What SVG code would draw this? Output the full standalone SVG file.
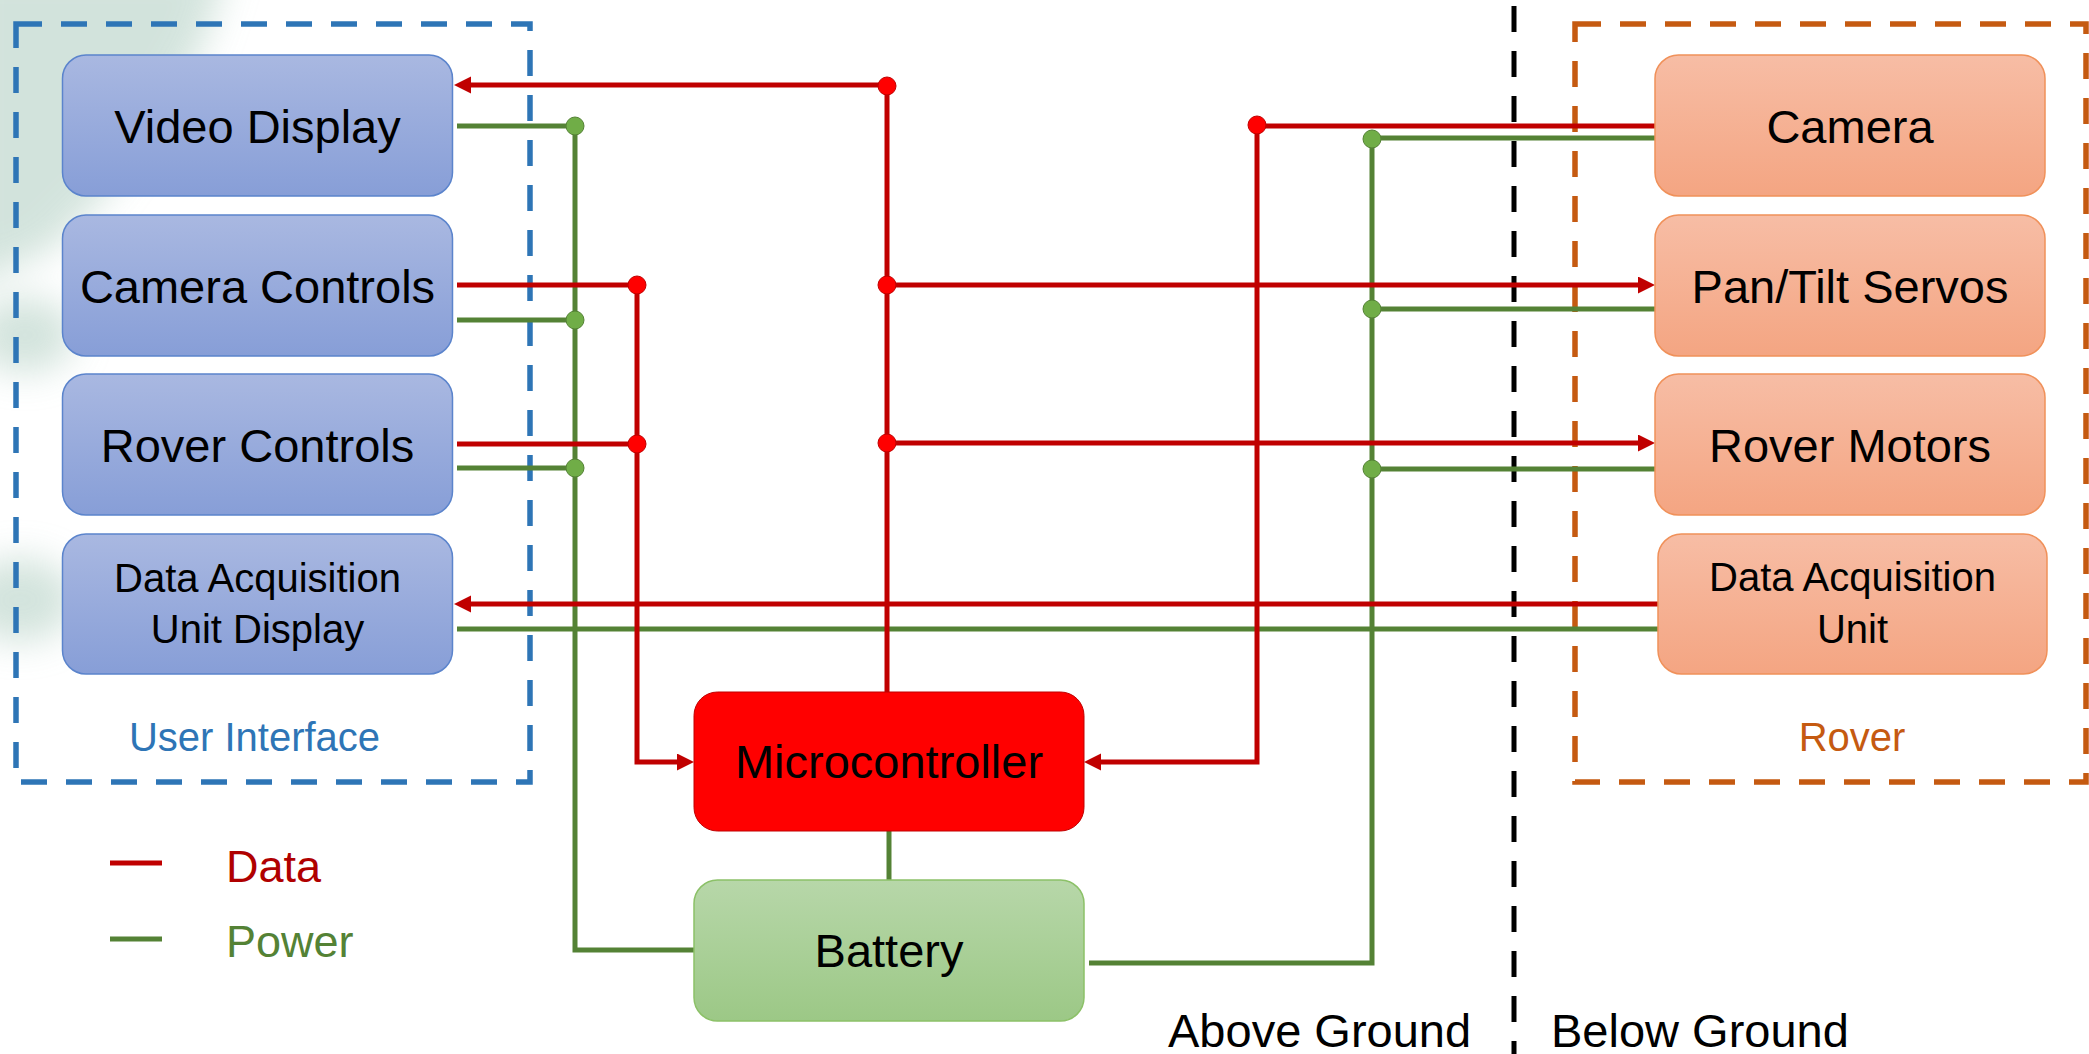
<svg xmlns="http://www.w3.org/2000/svg" width="2089" height="1054" viewBox="0 0 2089 1054">
<defs>
  <linearGradient id="gBlue" x1="0" y1="0" x2="0" y2="1">
    <stop offset="0" stop-color="#A9B8E1"/>
    <stop offset="1" stop-color="#879ED7"/>
  </linearGradient>
  <linearGradient id="gOrange" x1="0" y1="0" x2="0" y2="1">
    <stop offset="0" stop-color="#F7BDA5"/>
    <stop offset="1" stop-color="#F4A582"/>
  </linearGradient>
  <linearGradient id="gGreen" x1="0" y1="0" x2="0" y2="1">
    <stop offset="0" stop-color="#B7D7A9"/>
    <stop offset="1" stop-color="#9CC886"/>
  </linearGradient>
  <filter id="blur" x="-50%" y="-50%" width="200%" height="200%">
    <feGaussianBlur stdDeviation="18"/>
  </filter>
  <marker id="arrow" markerUnits="userSpaceOnUse" markerWidth="18" markerHeight="18" refX="6" refY="8.5" orient="auto">
    <path d="M0,0 L17,8.5 L0,17 z" fill="#C00000"/>
  </marker>
  <style>
    .ui { fill: url(#gBlue); stroke: #5B84CC; stroke-width: 1.5; }
    .rv { fill: url(#gOrange); stroke: #F0915A; stroke-width: 1.5; }
    .mc { fill: #FF0000; stroke: #C00000; stroke-width: 1; }
    .bt { fill: url(#gGreen); stroke: #8CC168; stroke-width: 1.5; }
    .lbl { font-family: "Liberation Sans", Arial, sans-serif; fill: #000; text-anchor: middle; }
    .big { font-size: 47px; }
    .small { font-size: 40px; }
    .data { fill: none; stroke: #C00000; stroke-width: 5; }
    .pwr { fill: none; stroke: #548235; stroke-width: 5; }
    .rdot { fill: #FF0000; stroke: #C00000; stroke-width: 1; }
    .gdot { fill: #70AD47; stroke: #548235; stroke-width: 1; }
    .dash { fill: none; stroke-width: 5.5; stroke-dasharray: 26 19; }
    .txt { font-family: "Liberation Sans", Arial, sans-serif; }
  </style>
</defs>

<!-- background wash -->
<g id="background" filter="url(#blur)" opacity="0.8">
  <path d="M-40,-40 L230,-40 L205,40 L160,120 L100,200 L50,250 L-40,290 Z" fill="#C8DDD4"/>
  <ellipse cx="25" cy="335" rx="50" ry="38" fill="#C8DDD4"/>
  <ellipse cx="20" cy="600" rx="55" ry="42" fill="#C8DDD4"/>
</g>

<!-- regions -->
<g id="user-interface-region">
  <rect class="dash" x="16" y="24" width="514" height="758" stroke="#2E75B6"/>
  <text class="txt" x="254.5" y="751" font-size="40" fill="#2E75B6" text-anchor="middle">User Interface</text>
</g>
<g id="rover-region">
  <rect class="dash" x="1575" y="24" width="511" height="758" stroke="#C55A11"/>
  <text class="txt" x="1852" y="751" font-size="40" fill="#C55A11" text-anchor="middle">Rover</text>
</g>
<g id="ground-divider">
  <line x1="1514" y1="6" x2="1514" y2="1054" stroke="#000" stroke-width="5" stroke-dasharray="26 19"/>
  <text class="txt" x="1168" y="1047" font-size="47" fill="#000">Above Ground</text>
  <text class="txt" x="1551" y="1047" font-size="47" fill="#000">Below Ground</text>
</g>

<!-- connectors -->
<g id="connectors">
  <!-- power -->
  <path class="pwr" d="M457,126 H575 V950 H694"/>
  <path class="pwr" d="M457,320 H575"/>
  <path class="pwr" d="M457,468 H575"/>
  <path class="pwr" d="M457,629 H1658"/>
  <path class="pwr" d="M1655,138 H1372 V963 H1089"/>
  <path class="pwr" d="M1655,309 H1372"/>
  <path class="pwr" d="M1655,469 H1372"/>
  <path class="pwr" d="M889,831 V880"/>
  <!-- data -->
  <path class="data" d="M887,692 V85"/>
  <path class="data" d="M887,85 H465" marker-end="url(#arrow)"/>
  <path class="data" d="M457,285 H637 V762 H683" marker-end="url(#arrow)"/>
  <path class="data" d="M457,444 H637"/>
  <path class="data" d="M887,285 H1644" marker-end="url(#arrow)"/>
  <path class="data" d="M887,443 H1644" marker-end="url(#arrow)"/>
  <path class="data" d="M1655,126 H1257 V762 H1095" marker-end="url(#arrow)"/>
  <path class="data" d="M1658,604 H465" marker-end="url(#arrow)"/>
  <!-- junctions -->
  <circle class="rdot" cx="887" cy="86" r="9"/>
  <circle class="rdot" cx="887" cy="285" r="9"/>
  <circle class="rdot" cx="887" cy="443" r="9"/>
  <circle class="rdot" cx="637" cy="285" r="9"/>
  <circle class="rdot" cx="637" cy="444" r="9"/>
  <circle class="rdot" cx="1257" cy="125" r="9"/>
  <circle class="gdot" cx="575" cy="126" r="9"/>
  <circle class="gdot" cx="575" cy="320" r="9"/>
  <circle class="gdot" cx="575" cy="468" r="9"/>
  <circle class="gdot" cx="1372" cy="139" r="9"/>
  <circle class="gdot" cx="1372" cy="309" r="9"/>
  <circle class="gdot" cx="1372" cy="469" r="9"/>
</g>

<!-- nodes: user interface -->
<g id="video-display">
  <rect class="ui" x="62.5" y="55" width="390" height="141" rx="23.5"/>
  <text class="lbl big" x="257.5" y="142.5">Video Display</text>
</g>
<g id="camera-controls">
  <rect class="ui" x="62.5" y="215" width="390" height="141" rx="23.5"/>
  <text class="lbl big" x="257.5" y="302.5">Camera Controls</text>
</g>
<g id="rover-controls">
  <rect class="ui" x="62.5" y="374" width="390" height="141" rx="23.5"/>
  <text class="lbl big" x="257.5" y="461.5">Rover Controls</text>
</g>
<g id="data-acquisition-unit-display">
  <rect class="ui" x="62.5" y="534" width="390" height="140" rx="23.5"/>
  <text class="lbl small" x="257.5" y="592">Data Acquisition</text>
  <text class="lbl small" x="257.5" y="643">Unit Display</text>
</g>

<!-- nodes: rover -->
<g id="camera">
  <rect class="rv" x="1655" y="55" width="390" height="141" rx="23.5"/>
  <text class="lbl big" x="1850" y="142.5">Camera</text>
</g>
<g id="pan-tilt-servos">
  <rect class="rv" x="1655" y="215" width="390" height="141" rx="23.5"/>
  <text class="lbl big" x="1850" y="302.5">Pan/Tilt Servos</text>
</g>
<g id="rover-motors">
  <rect class="rv" x="1655" y="374" width="390" height="141" rx="23.5"/>
  <text class="lbl big" x="1850" y="461.5">Rover Motors</text>
</g>
<g id="data-acquisition-unit">
  <rect class="rv" x="1658" y="534" width="389" height="140" rx="23.5"/>
  <text class="lbl small" x="1852.5" y="591">Data Acquisition</text>
  <text class="lbl small" x="1852.5" y="643">Unit</text>
</g>

<!-- central nodes -->
<g id="microcontroller">
  <rect class="mc" x="694" y="692" width="390" height="139" rx="23.5"/>
  <text class="lbl big" x="889" y="778">Microcontroller</text>
</g>
<g id="battery">
  <rect class="bt" x="694" y="880" width="390" height="141" rx="23.5"/>
  <text class="lbl big" x="889" y="967">Battery</text>
</g>

<!-- legend -->
<g id="legend">
  <line x1="110" y1="863" x2="162" y2="863" stroke="#C00000" stroke-width="5"/>
  <text class="txt" x="226" y="882" font-size="45" fill="#B00000">Data</text>
  <line x1="110" y1="939" x2="162" y2="939" stroke="#548235" stroke-width="5"/>
  <text class="txt" x="226" y="957" font-size="45" fill="#548235">Power</text>
</g>
</svg>
